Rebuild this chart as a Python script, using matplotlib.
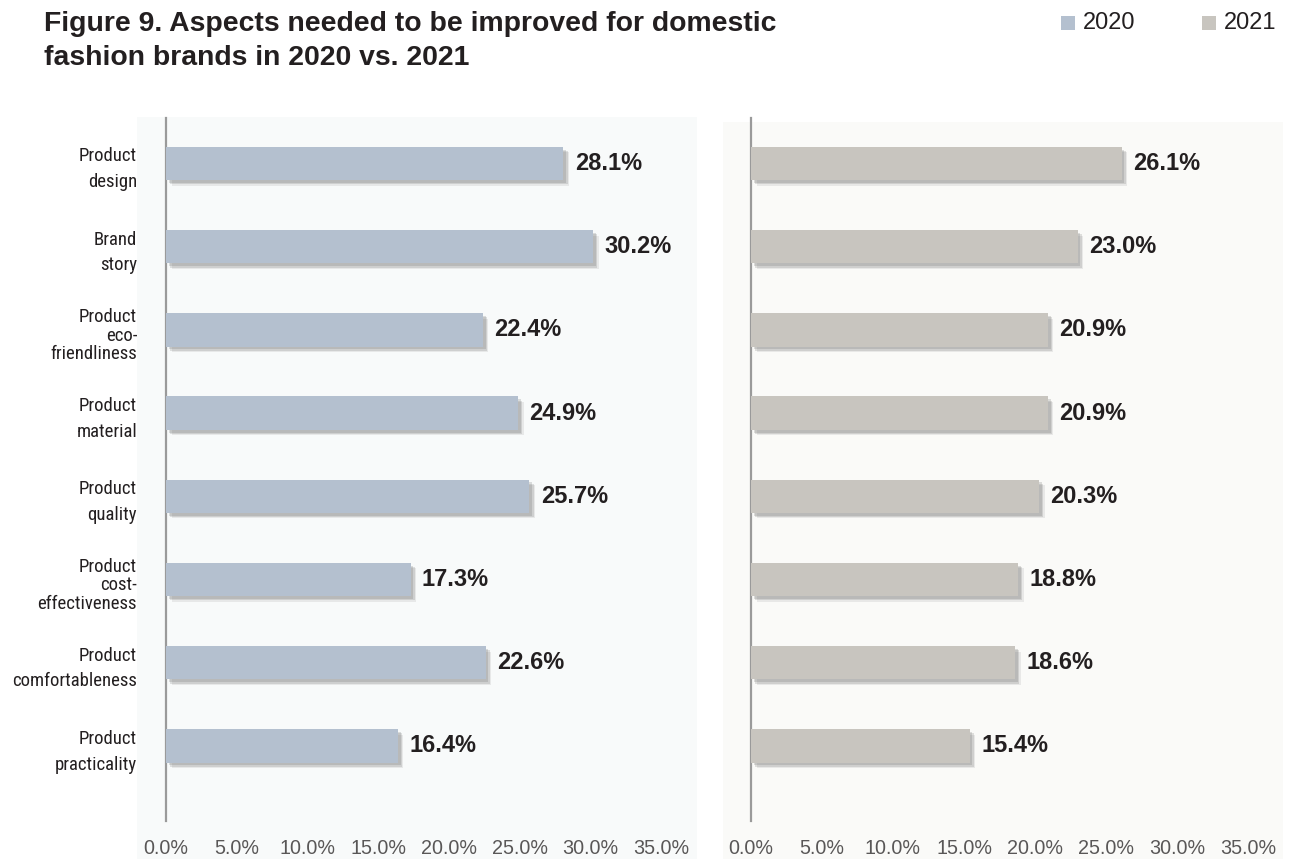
import matplotlib
matplotlib.use("Agg")
import matplotlib.pyplot as plt
from matplotlib import font_manager as fm
from matplotlib.patches import Rectangle
import matplotlib.patheffects as pe

# ---- data ----
categories = [
    "Product\ndesign",
    "Brand\nstory",
    "Product\neco-\nfriendliness",
    "Product\nmaterial",
    "Product\nquality",
    "Product\ncost-\neffectiveness",
    "Product\ncomfortableness",
    "Product\npracticality",
]
values_2020 = [28.1, 30.2, 22.4, 24.9, 25.7, 17.3, 22.6, 16.4]
values_2021 = [26.1, 23.0, 20.9, 20.9, 20.3, 18.8, 18.6, 15.4]
series_names = ["2020", "2021"]
xticks = [0, 5, 10, 15, 20, 25, 30, 35]
xtick_labels = [f"{t:.1f}%" for t in xticks]
title = "Figure 9. Aspects needed to be improved for domestic\nfashion brands in 2020 vs. 2021"

# ---- style ----
color_2020 = "#b4c0cf"
color_2021 = "#c8c5bf"
bg_2020 = "#f8fafa"
bg_2021 = "#fafaf8"
text_dark = "#231f20"
tick_gray = "#595757"
spine_gray = "#9a9a9a"

base_font = "Liberation Sans"
available = {f.name for f in fm.fontManager.ttflist}
narrow_font = None
for cand in ["Liberation Sans Narrow", "Roboto Condensed", "Open Sans Condensed"]:
    if cand in available:
        narrow_font = cand
        break
narrow_kw = {"family": narrow_font} if narrow_font else {"family": "DejaVu Sans", "stretch": "condensed"}

plt.rcParams["font.family"] = [base_font, "DejaVu Sans"]

W, H = 1306, 859
fig = plt.figure(figsize=(W / 100, H / 100), dpi=100)
fig.patch.set_facecolor("white")


def fx(px):
    return px / W


def fy(py):
    return 1 - py / H


# panel backgrounds (behind the axes)
fig.patches.append(Rectangle((fx(137), 0), fx(697) - fx(137), fy(117), transform=fig.transFigure,
                             facecolor=bg_2020, edgecolor="none", zorder=-10))
fig.patches.append(Rectangle((fx(723), 0), fx(1283) - fx(723), fy(122), transform=fig.transFigure,
                             facecolor=bg_2021, edgecolor="none", zorder=-10))

ax_top, ax_bot = 118, 821
first_c, step = 163.5, 83.2
ylim_top = -(first_c - ax_top) / step
ylim_bot = (ax_bot - first_c) / step

panels = [
    (166, 661, values_2020, color_2020, True),
    (751, 1248, values_2021, color_2021, False),
]

ypos = list(range(len(categories)))
shadow = [pe.SimplePatchShadow(offset=(4, -4), shadow_rgbFace="#6e6e6e", alpha=0.12),
          pe.SimplePatchShadow(offset=(3, -3), shadow_rgbFace="#6e6e6e", alpha=0.2),
          pe.SimplePatchShadow(offset=(2, -2), shadow_rgbFace="#6e6e6e", alpha=0.22),
          pe.Normal()]

for x0, x35, vals, col, show_cats in panels:
    ax = fig.add_axes([fx(x0), fy(ax_bot), fx(x35) - fx(x0), fy(ax_top) - fy(ax_bot)])
    ax.set_facecolor("none")
    ax.set_zorder(1)
    ax.set_xlim(0, 35)
    ax.set_ylim(ylim_bot, ylim_top)
    bars = ax.barh(ypos, vals, height=0.40, color=col, zorder=3)
    for b in bars:
        b.set_path_effects(shadow)
    for y, v in zip(ypos, vals):
        ax.text(v + 0.8, y, f"{v:.1f}%", va="center", ha="left", fontsize=17,
                fontweight="bold", color=text_dark, zorder=4)
    for s in ["top", "right", "bottom"]:
        ax.spines[s].set_visible(False)
    ax.spines["left"].set_color(spine_gray)
    ax.spines["left"].set_linewidth(1.6)
    ax.set_yticks([])
    ax.set_xticks(xticks)
    ax.set_xticklabels(xtick_labels)
    ax.tick_params(axis="x", length=0, pad=13, labelsize=14.2, labelcolor=tick_gray)
    if show_cats:
        for y, lab in zip(ypos, categories):
            nl = lab.count("\n")
            ls = 1.55 if nl == 1 else 1.02
            ax.text(-2.05, y + 0.07, lab, ha="right", va="center", fontsize=13.5,
                    color=text_dark, linespacing=ls, clip_on=False, **narrow_kw)

# title
fig.text(fx(44), fy(11), title, ha="left", va="top", fontsize=20.4, fontweight="bold",
         color=text_dark, linespacing=1.38)

# legend
for x_sq, name, col in [(1061, series_names[0], color_2020), (1202, series_names[1], color_2021)]:
    fig.patches.append(Rectangle((fx(x_sq), fy(30)), fx(14), 14 / H, transform=fig.transFigure,
                                 facecolor=col, edgecolor="none"))
    fig.text(fx(x_sq + 22), fy(23), name, ha="left", va="center", fontsize=17, color=text_dark)

fig.savefig("out.png", dpi=100)
